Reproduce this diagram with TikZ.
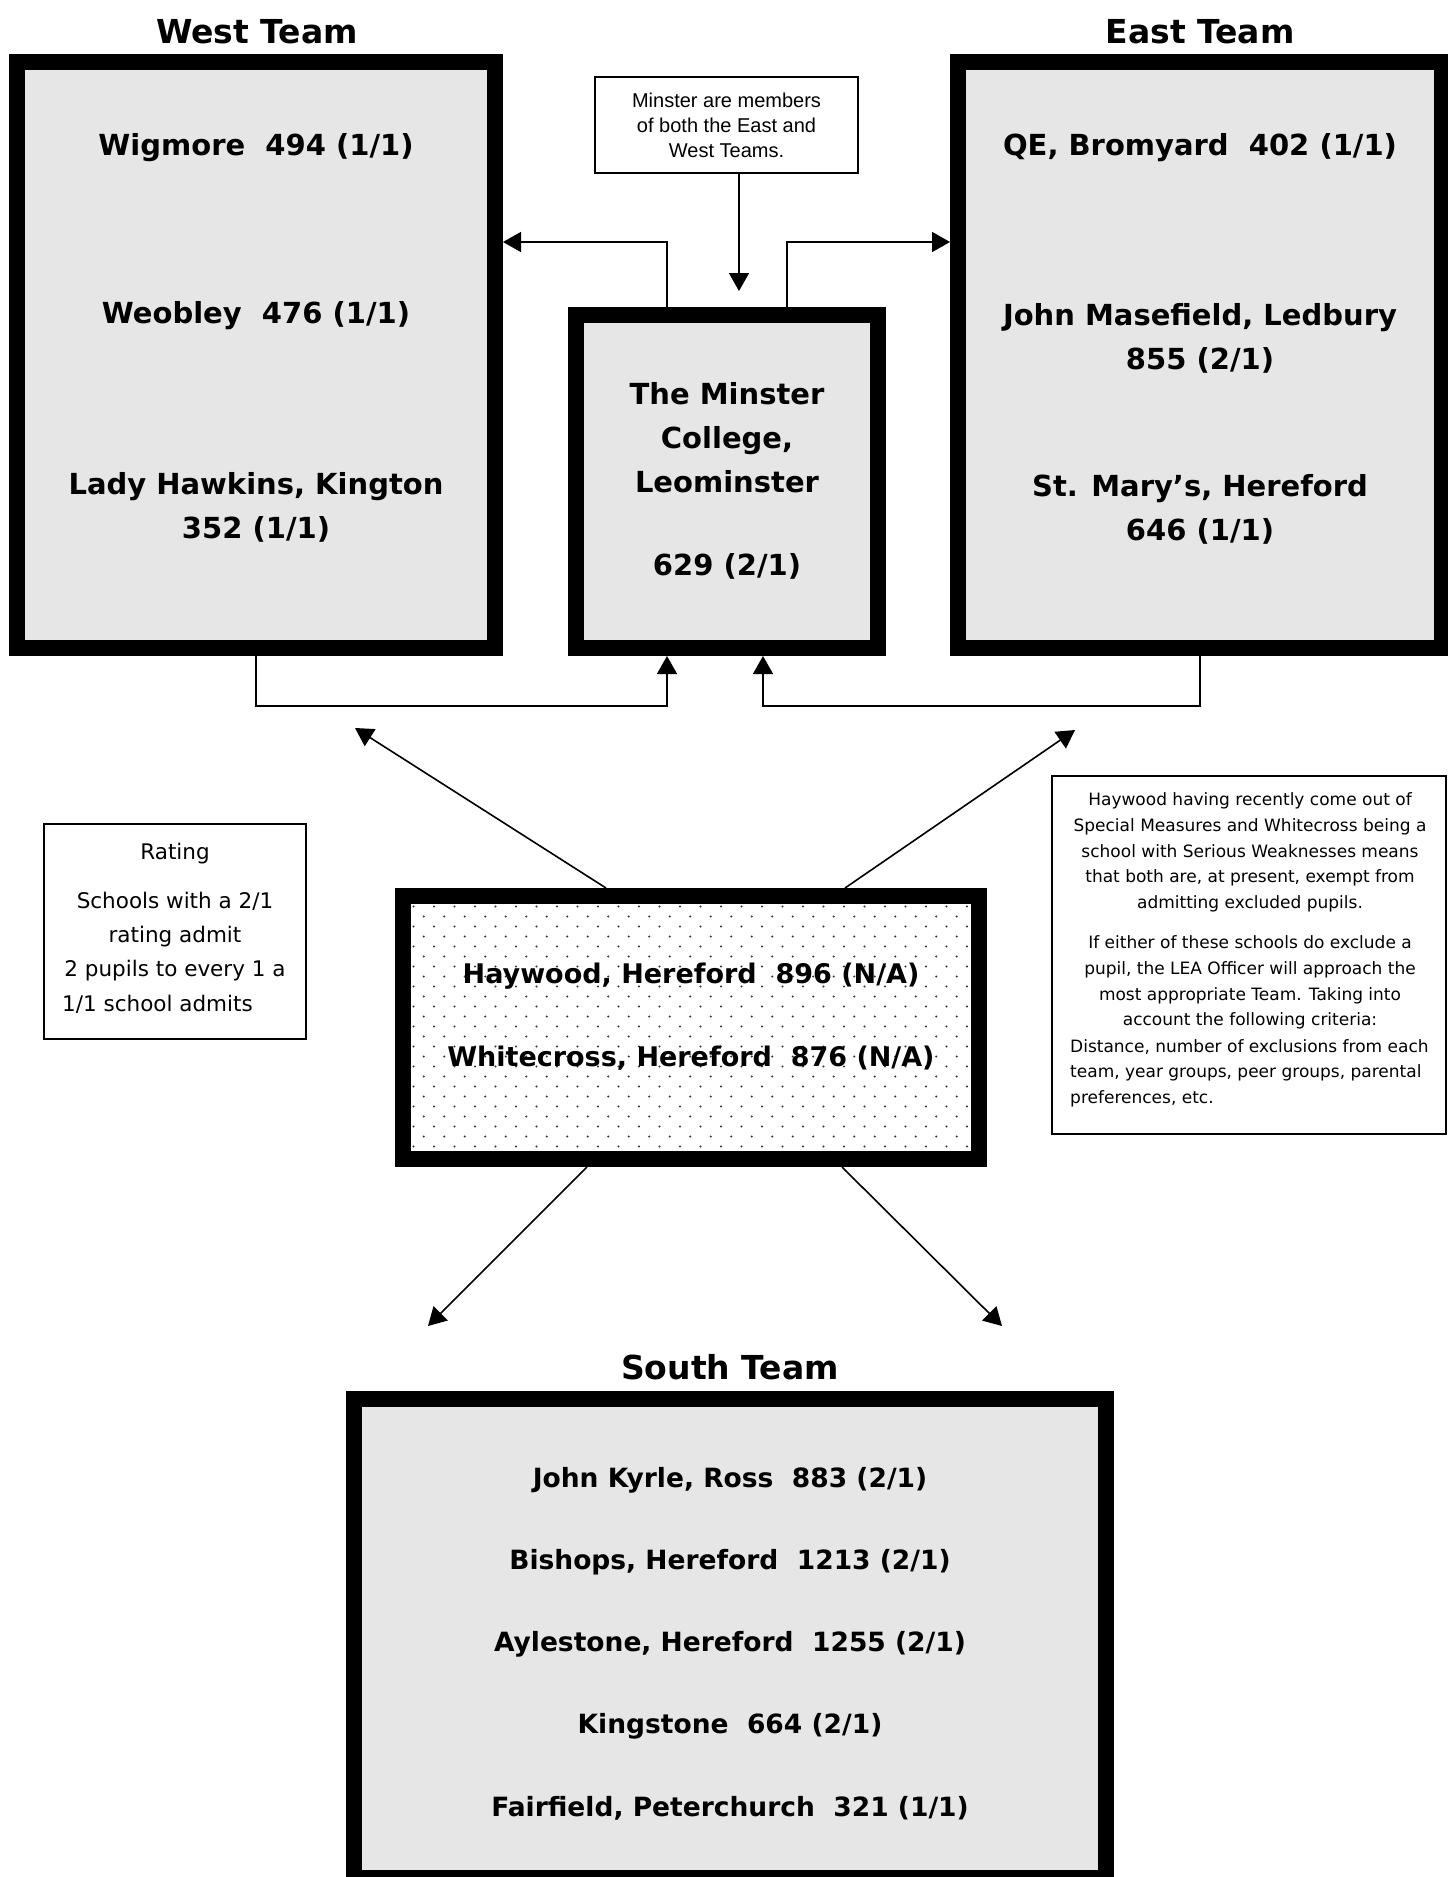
\documentclass[tikz,border=0pt]{standalone}
\usepackage{fontspec}
\setmainfont{DejaVu Sans}
\newfontfamily\arialfont{Liberation Sans}
\usetikzlibrary{arrows.meta}
\definecolor{boxgray}{RGB}{230,230,230}
\tikzset{
	teambox/.style={draw=black, fill=boxgray, line width=16pt, outer sep=8pt, inner sep=0pt},
	notebox/.style={draw=black, fill=white, line width=2pt, outer sep=1pt, inner sep=0pt},
	link/.style={draw=black, line width=1.6pt, -{Triangle[length=18pt, width=20pt]}},
	teamtitle/.style={font=\bfseries\fontsize{33}{40}\selectfont},
	school/.style={font=\bfseries\fontsize{29}{44}\selectfont, align=center},
	southschool/.style={font=\bfseries\fontsize{26.5}{40}\selectfont, align=center},
	ratingtext/.style={font=\fontsize{21.5}{34}\selectfont},
	notetext/.style={font=\fontsize{17}{25.8}\selectfont, align=center}
}

\begin{document}
\begin{tikzpicture}[x=1pt, y=-1pt]
		%%%%% START %%%%%
		\useasboundingbox (0, 0) rectangle (1448, 1877);
		
		% team boxes
		\node[teambox, minimum width=478, minimum height=586] (west) at (256, 355) {};
		\node[teambox, minimum width=302, minimum height=333] (minster) at (727, 481.5) {};
		\node[teambox, minimum width=484, minimum height=586] (east) at (1200, 355) {};
		\node[teambox, fill=white, minimum width=576, minimum height=263] (haywood) at (691, 1027.5) {};
		\node[teambox, minimum width=752, minimum height=479] (south) at (730, 1638.5) {};
		
		% dots in the Haywood box
		\begin{scope}
			\clip (411, 904) rectangle (971, 1151);
			\foreach \r in {0,...,24}
				\foreach \c in {0,...,27}
					\fill[black!80] ({413.5+\c*20.5+mod(\r,2)*10.25}, {906.5+\r*10}) circle (1.2pt);
		\end{scope}
		
		% note boxes
		\node[notebox, minimum width=263, minimum height=96] (minnote) at (726.5, 125) {};
		\node[notebox, minimum width=262, minimum height=215] (rating) at (175, 931.5) {};
		\node[notebox, minimum width=394, minimum height=358] (haynote) at (1249, 955) {};
		
		% titles
		\node[teamtitle] (westtitle) at (257, 32) {West Team};
		\node[teamtitle] (easttitle) at (1200, 32) {East Team};
		\node[teamtitle] (southtitle) at (730, 1367) {South Team};
		
		% west schools
		\node[school] (wigmore) at (256, 148) {Wigmore~ 494 (1/1)};
		\node[school] (weobley) at (256, 316) {Weobley~ 476 (1/1)};
		\node[school] (lady) at (256, 507) {Lady Hawkins, Kington\\352 (1/1)};
		
		% minster
		\node[school] (minstername) at (727, 438) {The Minster\\College,\\Leominster};
		\node[school] (minsterroll) at (727, 566) {629 (2/1)};
		
		% east schools
		\node[school] (qe) at (1200, 148) {QE, Bromyard~ 402 (1/1)};
		\node[school] (masefield) at (1200, 338) {John Masefield, Ledbury\\855 (2/1)};
		\node[school] (marys) at (1200, 509) {St. Mary's, Hereford\\646 (1/1)};
		
		% haywood and whitecross
		\node[southschool, font=\bfseries\fontsize{27}{40}\selectfont] (haywoodname) at (691, 976.5) {Haywood, Hereford~ 896 (N/A)};
		\node[southschool, font=\bfseries\fontsize{27}{40}\selectfont] (whitecross) at (691, 1058.5) {Whitecross, Hereford~ 876 (N/A)};
		
		% south schools
		\node[southschool] (kyrle) at (730, 1480) {John Kyrle, Ross~ 883 (2/1)};
		\node[southschool] (bishops) at (730, 1562) {Bishops, Hereford~ 1213 (2/1)};
		\node[southschool] (aylestone) at (730, 1644) {Aylestone, Hereford~ 1255 (2/1)};
		\node[southschool] (kingstone) at (730, 1726) {Kingstone~ 664 (2/1)};
		\node[southschool] (fairfield) at (730, 1808) {Fairfield, Peterchurch~ 321 (1/1)};
		
		% note texts
		\node[align=center, font=\arialfont\fontsize{20}{25}\selectfont] (minnotetext) at (726.5, 125) {Minster are members\\of both the East and\\West Teams.};
		
		\node[ratingtext] (ratinghead) at (175, 854) {Rating};
		\node[ratingtext, align=center] (ratingbody) at (175, 937) {Schools with a 2/1\\rating admit\\2 pupils to every 1 a};
		\node[ratingtext, anchor=west, inner sep=0pt] (ratinglast) at (62, 1004) {1/1 school admits};
		
		\node[notetext] (haynoteone) at (1250, 852.4) {Haywood having recently come out of\\Special Measures and Whitecross being a\\school with Serious Weaknesses means\\that both are, at present, exempt from\\admitting excluded pupils.};
		\node[notetext] (haynotetwo) at (1250, 982.5) {If either of these schools do exclude a\\pupil, the LEA Officer will approach the\\most appropriate Team. Taking into\\account the following criteria:};
		\node[notetext, align=left, anchor=west, inner sep=0pt] (haynotethree) at (1070, 1073.2) {Distance, number of exclusions from each\\team, year groups, peer groups, parental\\preferences, etc.};
		
		% connectors round the minster
		\coordinate (wturn) at (667, 242);
		\coordinate (eturn) at (787, 242);
		\draw[link] (wturn |- minster.north) -- (wturn) -- (wturn -| west.east);
		\draw[link] (eturn |- minster.north) -- (eturn) -- (eturn -| east.west);
		
		\coordinate (notetip) at (739, 291);
		\draw[link] (notetip |- minnote.south) -- (notetip);
		
		\coordinate (wjoin) at (667, 706);
		\coordinate (ejoin) at (763, 706);
		\draw[link] (west.south) |- (wjoin) -- (wjoin |- minster.south);
		\draw[link] (east.south) |- (ejoin) -- (ejoin |- minster.south);
		
		% arrows out of haywood
		\coordinate (nwtip) at (355, 728);
		\coordinate (netip) at (1075, 730);
		\coordinate (swtip) at (428, 1326);
		\coordinate (setip) at (1002, 1326);
		\draw[link] ([xshift=-85pt]haywood.north) -- (nwtip);
		\draw[link] ([xshift=154pt]haywood.north) -- (netip);
		\draw[link] ([xshift=-104pt]haywood.south) -- (swtip);
		\draw[link] ([xshift=151pt]haywood.south) -- (setip);
		
		%%%%% END %%%%%
	\end{tikzpicture}
\end{document}
